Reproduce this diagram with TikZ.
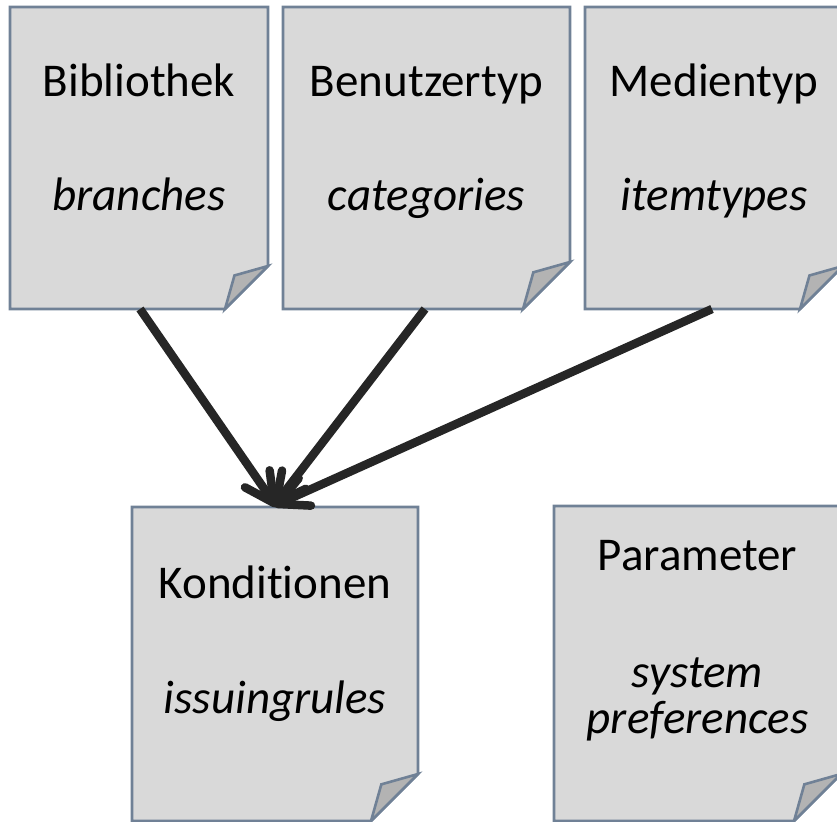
\documentclass[tikz,border=0pt]{standalone}
\usepackage{fontspec}
\setmainfont{Carlito}[Ligatures={NoCommon,NoContextual}]
\usetikzlibrary{calc}
\definecolor{docfill}{HTML}{D9D9D9}
\definecolor{foldfill}{HTML}{B3B3B3}
\definecolor{docline}{HTML}{708196}
\definecolor{arrowc}{HTML}{262626}
\tikzset{
  docbox/.style={inner sep=0pt, outer sep=0pt, draw=none},
  docstyle/.style={fill=docfill, draw=docline, line width=2.6pt, line join=miter},
  foldstyle/.style={fill=foldfill, draw=docline, line width=2.6pt, line join=miter},
  lbl/.style={inner sep=0pt, anchor=base, font=\fontsize{47}{56}\selectfont},
  ilbl/.style={lbl, font=\fontsize{47}{56}\selectfont\itshape},
  arr/.style={draw=arrowc, line width=8.5pt},
  wing/.style={draw=arrowc, line width=8.5pt, line cap=round, line join=round}
}
\newcommand\docoutline[2]{%
  \path[docstyle] (#1.north west) -- (#1.north east) -- ([yshift=#2]#1.south east)
     -- ([xshift=-#2]#1.south east) -- (#1.south west) -- cycle;
  \path[foldstyle] ([yshift=#2]#1.south east) -- ([xshift=-0.78*#2, yshift=0.78*#2]#1.south east)
     -- ([xshift=-#2]#1.south east) -- cycle;
}
\newcommand\arrowwings[2]{% tip, source
  \draw[wing] ($(#1)!33pt!27:(#2)$) -- (#1) -- ($(#1)!33pt!-27:(#2)$);
}
\begin{document}
\begin{tikzpicture}[x=1pt,y=-1pt]
\useasboundingbox (0,0) rectangle (837,821);
\clip (0,0) rectangle (837,821);
% boxes
\node[docbox, minimum width=258pt, minimum height=302pt] (b1) at (139,158) {};
\node[docbox, minimum width=287pt, minimum height=302pt] (b2) at (426.5,158) {};
\node[docbox, minimum width=258pt, minimum height=302pt] (b3) at (714,158) {};
\node[docbox, minimum width=286pt, minimum height=314pt] (k) at (275,664) {};
\node[docbox, minimum width=287pt, minimum height=315pt] (p) at (697.5,663.5) {};
\docoutline{b1}{43pt}
\docoutline{b2}{47pt}
\docoutline{b3}{43pt}
\docoutline{k}{47pt}
\docoutline{p}{47pt}
% labels
\node[lbl]  (b1a) at ($(b1.north)+(0,90)$) {Bibliothek};
\node[ilbl] (b1b) at ($(b1.north)+(0,203)$) {branches};
\node[lbl]  (b2a) at ($(b2.north)+(0,90)$) {Benutzertyp};
\node[ilbl] (b2b) at ($(b2.north)+(0,203)$) {categories};
\node[lbl]  (b3a) at ($(b3.north)+(0,90)$) {Medientyp};
\node[ilbl] (b3b) at ($(b3.north)+(0,203)$) {itemtypes};
\node[lbl]  (ka) at ($(k.north)+(0,91)$) {Konditionen};
\node[ilbl] (kb) at ($(k.north)+(0,206)$) {issuingrules};
\node[lbl]  (pa) at ($(p.north)+(0,64)$) {Parameter};
\node[ilbl] (pb) at ($(p.north)+(0,181)$) {system};
\node[ilbl] (pc) at ($(p.north)+(0,227)$) {preferences};
% connectors
\coordinate (s1) at ([xshift=1pt]b1.south);
\coordinate (s2) at ([xshift=-1.5pt]b2.south);
\coordinate (s3) at ([xshift=-2pt]b3.south);
\coordinate (t1) at ($(k.north)+(-1,-4)$);
\coordinate (t2) at ($(k.north)+(1,-4)$);
\coordinate (t3) at ($(k.north)+(3,-3)$);
\draw[arr] (s1) -- ($(t1)!3pt!(s1)$);
\draw[arr] (s2) -- ($(t2)!3pt!(s2)$);
\draw[arr] (s3) -- ($(t3)!3pt!(s3)$);
\arrowwings{t1}{s1}
\arrowwings{t2}{s2}
\arrowwings{t3}{s3}
\end{tikzpicture}
\end{document}
